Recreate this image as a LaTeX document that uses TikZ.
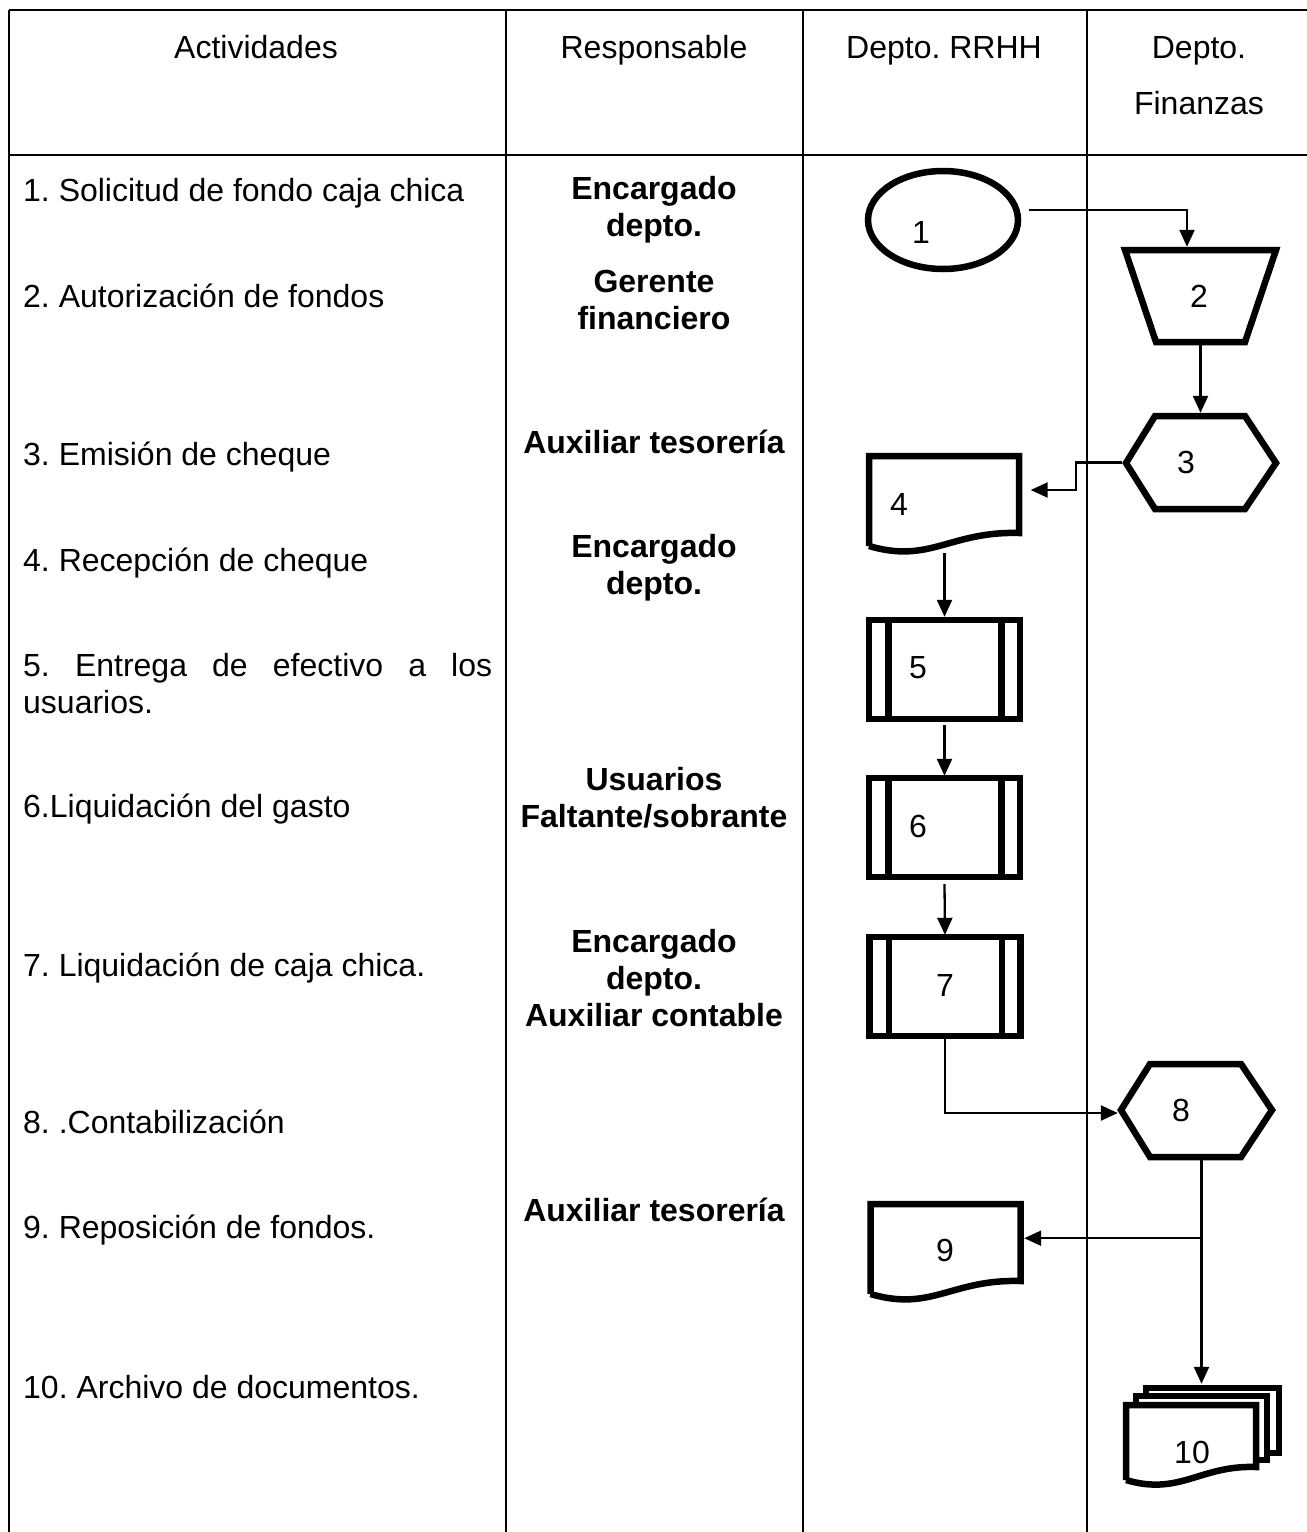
\documentclass[tikz,border=0pt]{standalone}
\usepackage{fontspec}
\setmainfont{Liberation Sans}
\frenchspacing
\usetikzlibrary{arrows.meta,calc,shapes.geometric}
\begin{document}
\begin{tikzpicture}[x=1pt,y=-1pt,
  grid/.style={line width=1.8pt},
  shp/.style={line width=6.5pt, line join=miter},
  conn/.style={line width=2.3pt, -{Triangle[length=17pt,width=15pt]}},
  area/.style 2 args={inner sep=0pt, draw=none, minimum width=#1, minimum height=#2},
  txt/.style={font=\fontsize{32}{37}\selectfont, inner sep=0pt},
  act/.style={txt, anchor=base west},
  head/.style={txt, anchor=base},
  resp/.style={txt, font=\fontsize{32}{37}\selectfont\bfseries, align=center},
  num/.style={txt, font=\fontsize{32}{37}\selectfont},
  docshape/.pic={\draw[shp] (-75,46) -- (-75,-44) -- (75,-44) -- (75,33)
        .. controls (6,31) and (-14,64) .. (-75,46);},
  predef/.pic={\draw[shp] (-75.5,-49.5) rectangle (75.5,49.5);
        \draw[shp] (-56,-49.5) -- (-56,49.5);
        \draw[shp] (57,-49.5) -- (57,49.5);}
]
\useasboundingbox (0,0) rectangle (1307,1532);

% table
\draw[grid] (9,10) -- (1307,10);
\draw[grid] (9,155) -- (1307,155);
\draw[grid] (9,10) -- (9,1532);
\draw[grid] (506,10) -- (506,1532);
\draw[grid] (803,10) -- (803,1532);
\draw[grid] (1087,10) -- (1087,1532);

% headers
\node[head] (h1) at (256,58) {Actividades};
\node[head] (h2) at (654,58) {Responsable};
\node[head] (h3) at (944,58) {Depto. RRHH};
\node[head] (h4a) at (1199,58) {Depto.};
\node[head] (h4b) at (1199,114) {Finanzas};

% activities
\node[act] (a1) at (23,201) {1. Solicitud de fondo caja chica};
\node[act] (a2) at (23,307) {2. Autorización de fondos};
\node[act] (a3) at (23,465) {3. Emisión de cheque};
\node[act] (a4) at (23,571) {4. Recepción de cheque};
\node[act, text width=469pt, align=justify] (a5) at (23,676) {5. Entrega de efectivo a los\linebreak usuarios.};
\node[act] (a6) at (23,817) {6.Liquidación del gasto};
\node[act] (a7) at (23,976) {7. Liquidación de caja chica.};
\node[act] (a8) at (23,1133) {8. .Contabilización};
\node[act] (a9) at (23,1238) {9. Reposición de fondos.};
\node[act] (a10) at (23,1398) {10. Archivo de documentos.};

% responsables
\node[resp] (r1) at (654,210) {Encargado\\depto.};
\node[resp] (r2) at (654,300) {Gerente\\financiero};
\node[resp, anchor=base] (r3) at (654,453) {Auxiliar tesorería};
\node[resp] (r4) at (654,568) {Encargado\\depto.};
\node[resp] (r5) at (654,798) {Usuarios\\Faltante/sobrante};
\node[resp] (r6) at (654,978) {Encargado\\depto.\\Auxiliar contable};
\node[resp, anchor=base] (r7) at (654,1221) {Auxiliar tesorería};

% shapes
\node[draw, shp, ellipse, inner sep=0pt, minimum width=150pt, minimum height=98pt] (n1) at (943,220) {};

\node[area={157pt}{98pt}] (n2) at (1200.5,296) {};
\draw[shp] (1125,250) -- (1276,250) -- (1245,342) -- (1156,342) -- cycle;

\node[area={157pt}{99pt}] (n3) at (1201,462.5) {};
\draw[shp] (1126,463) -- (1155,416) -- (1245,416) -- (1276,463) -- (1245,509) -- (1155,509) -- cycle;

\node[area={158pt}{100pt}] (n4) at (944.5,503) {};
\pic at (944,500) {docshape};

\node[area={157pt}{105pt}] (n5) at (944.5,669.5) {};
\pic at (944.5,669.5) {predef};

\node[area={157pt}{103pt}] (n6) at (944.5,827.5) {};
\pic at (944.5,827.5) {predef};

\node[area={158pt}{103pt}] (n7) at (945,986.5) {};
\pic at (945,986.5) {predef};

\node[area={157pt}{99pt}] (n8) at (1196.5,1110.5) {};
\draw[shp] (1121,1110) -- (1150,1064) -- (1241,1064) -- (1272,1110) -- (1241,1157) -- (1150,1157) -- cycle;

\node[area={157pt}{98pt}] (n9) at (945.5,1250) {};
\pic at (945.5,1248) {docshape};

\node[area={158pt}{100pt}] (n10) at (1203,1434) {};
\draw[shp] (1146,1396) -- (1146,1388) -- (1279,1388) -- (1279,1453) -- (1267,1453);
\draw[shp] (1136,1405) -- (1136,1396) -- (1267,1396) -- (1267,1460) -- (1256,1460);
\draw[shp] (1126,1480) -- (1126,1405) -- (1256,1405) -- (1256,1467)
   .. controls (1200,1465) and (1180,1496) .. (1126,1480);

% numbers
\node[num] (l1) at (921,232) {1};
\node[num] (l2) at (1199,296) {2};
\node[num] (l3) at (1186,462) {3};
\node[num] (l4) at (899,504) {4};
\node[num] (l5) at (918,668) {5};
\node[num] (l6) at (918,826) {6};
\node[num] (l7) at (945,985) {7};
\node[num] (l8) at (1181,1110) {8};
\node[num] (l9) at (945,1250) {9};
\node[num] (l10) at (1192,1452) {10};

% connectors
\draw[conn] ($(n1.east)+(8,-10)$) -| ($(n2.north)+(-13.5,0)$);
\draw[conn] (n2.south) -- (n2.south |- n3.north);
\draw[conn] (n3.west) -- ++(-46,0) |- ($(n4.east)+(7,-13)$);
\draw[conn] (n4.south) -- (n5.north);
\draw[conn] ($(n5.south)+(0,3)$) -- (n6.north);
\draw[conn] ($(n6.south)+(0,5)$) -- (n7.north);
\draw[conn] (n7.south) |- ($(n8.west)+(0,2.5)$);
\coordinate (j) at ($(n8.south)+(5,78)$);
\draw[line width=2.3pt] ($(n8.south)+(5,0)$) -- (j);
\draw[conn] (j) -- (j |- n10.north);
\draw[conn] (j) -- (n9.east |- j);
\end{tikzpicture}
\end{document}
